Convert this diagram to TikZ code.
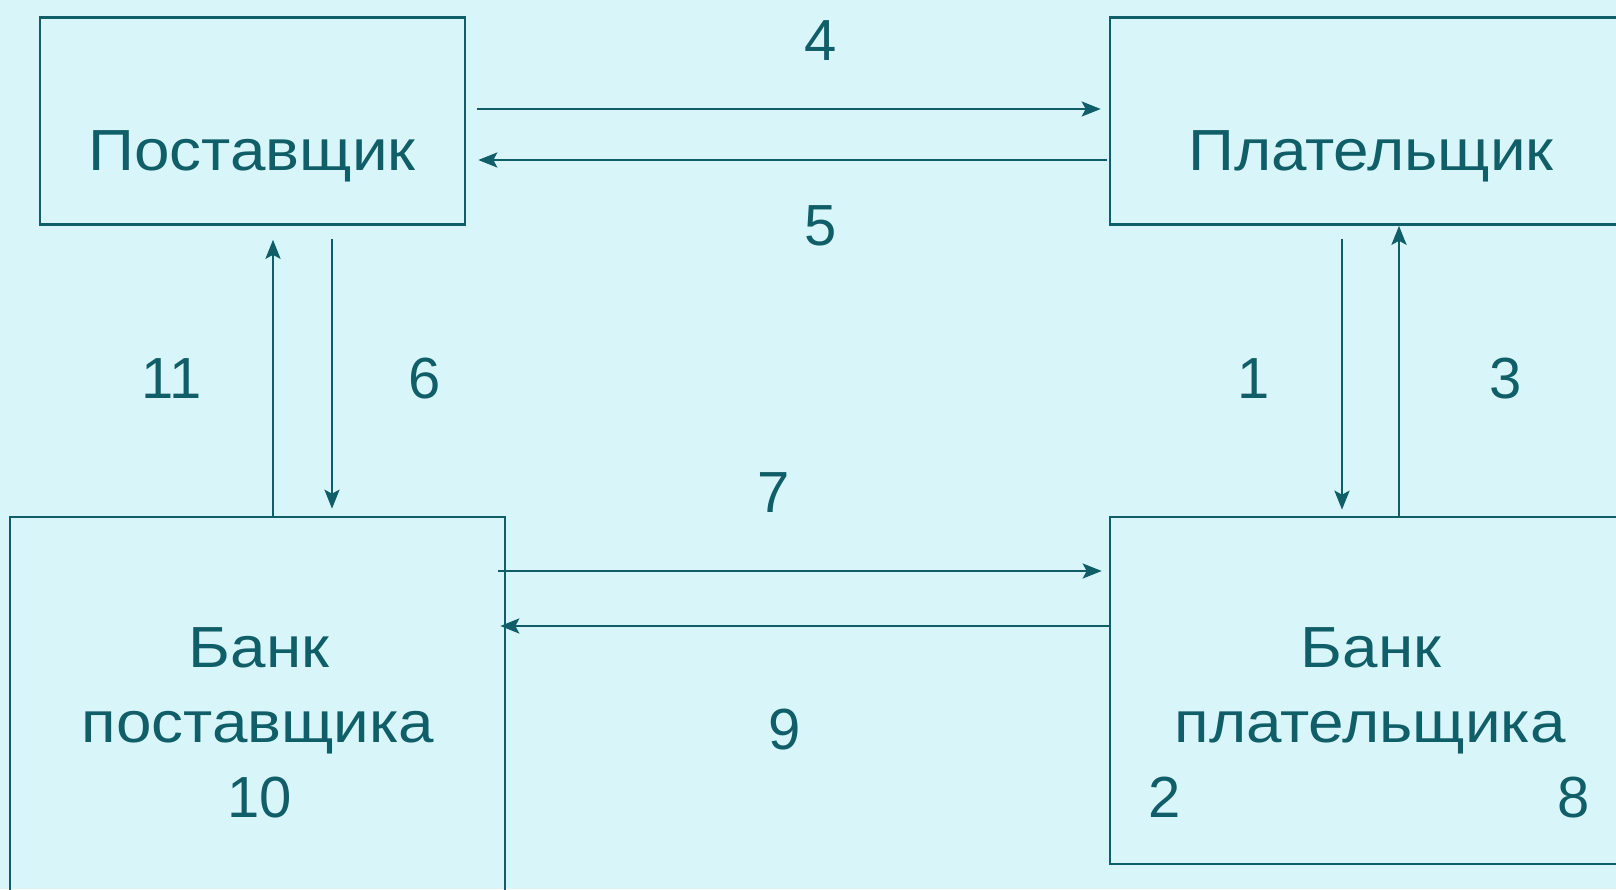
\documentclass[tikz,border=0pt]{standalone}
\usepackage{fontspec}
\setmainfont{Liberation Sans}
\newfontfamily\widefont[FakeStretch=1.1]{Liberation Sans}
\usetikzlibrary{arrows.meta}

\definecolor{ink}{RGB}{16,94,104}
\definecolor{paper}{RGB}{216,246,249}

\begin{document}
\begin{tikzpicture}
    [%%%%%%%%%%%%%%%%%%%%%%%%%%%%%%
    x=1pt,y=-1pt,
    box/.style={rectangle,draw=ink,line width=2.6pt,inner sep=0pt},
    conn/.style={draw=ink,line width=2.6pt,-{Stealth[length=19pt,width=15pt,inset=4pt]}},
    lbl/.style={text=ink,font=\fontsize{58}{70}\selectfont,inner sep=0pt,anchor=base},
    word/.style={lbl,font=\widefont\fontsize{58}{70}\selectfont},
    ]%%%%%%%%%%%%%%%%%%%%%%%%%%%%%%

    \useasboundingbox (0,0) rectangle (1616,889);
    \clip (0,0) rectangle (1616,889);
    \fill[paper] (0,0) rectangle (1616,889);

    % boxes
    \node[box,minimum width=425pt,minimum height=207pt] at (252.5,121) (sup){};
    \node[box,minimum width=530pt,minimum height=207pt] at (1375,121) (pay){};
    \node[box,minimum width=495pt,minimum height=383pt] at (257.5,708.5) (bsup){};
    \node[box,minimum width=530pt,minimum height=347pt] at (1375,690.5) (bpay){};

    % box texts
    \node[word] at (252,170) (sup_text) {Поставщик};
    \node[word] at (1371,170) (pay_text) {Плательщик};
    \node[word] at (259,667) (bsup_text) {Банк};
    \node[word] at (258,742) (bsup_text2) {поставщика};
    \node[lbl] at (260,817) (n10) {10};
    \node[word] at (1371,667) (bpay_text) {Банк};
    \node[word] at (1370,742) (bpay_text2) {плательщика};
    \node[lbl] at (1165,817) (n2) {2};
    \node[lbl] at (1574,817) (n8) {8};

    % rows and columns of the arrows
    \coordinate (r4) at (0,109);
    \coordinate (r5) at (0,160);
    \coordinate (r7) at (0,571);
    \coordinate (r9) at (0,626);
    \coordinate (c11) at (273,0);
    \coordinate (c6) at (332,0);
    \coordinate (c1) at (1342,0);
    \coordinate (c3) at (1399,0);

    % supplier <-> payer
    \draw[conn,shorten <=11pt,shorten >=8pt] (sup.east |- r4) -- (pay.west |- r4);
    \draw[conn,shorten <=2pt,shorten >=12pt] (pay.west |- r5) -- (sup.east |- r5);
    \node[lbl] at (821,60) (n4) {4};
    \node[lbl] at (821,245) (n5) {5};

    % supplier <-> supplier's bank
    \draw[conn,shorten >=14pt] (c11 |- bsup.north) -- (c11 |- sup.south);
    \draw[conn,shorten <=13pt,shorten >=7pt] (c6 |- sup.south) -- (c6 |- bsup.north);
    \node[lbl] at (172,398) (n11) {11};
    \node[lbl] at (425,398) (n6) {6};

    % payer <-> payer's bank
    \draw[conn,shorten <=13pt,shorten >=6pt] (c1 |- pay.south) -- (c1 |- bpay.north);
    \draw[conn] (c3 |- bpay.north) -- (c3 |- pay.south);
    \node[lbl] at (1254,398) (n1) {1};
    \node[lbl] at (1506,398) (n3) {3};

    % bank <-> bank
    \draw[conn,shorten <=-8pt,shorten >=7pt] (bsup.east |- r7) -- (bpay.west |- r7);
    \draw[conn,shorten >=-6pt] (bpay.west |- r9) -- (bsup.east |- r9);
    \node[lbl] at (774,512) (n7) {7};
    \node[lbl] at (785,749) (n9) {9};
\end{tikzpicture}
\end{document}
